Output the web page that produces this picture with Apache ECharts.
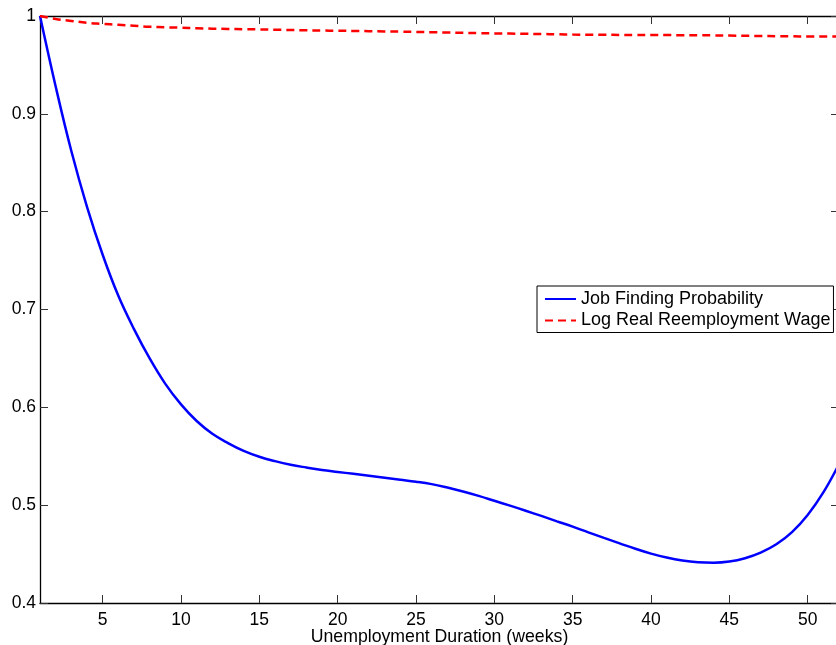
<!DOCTYPE html>
<html>
<head>
<meta charset="utf-8">
<script src="https://cdn.jsdelivr.net/npm/echarts@6/dist/echarts.min.js"></script>
<style>
  html, body { margin: 0; padding: 0; background: #fff; }
  #chart { width: 836px; height: 645px; }
</style>
</head>
<body>
<div id="chart"></div>
<script>
const weeks = [1,2,3,4,5,6,7,8,9,10,11,12,13,14,15,16,17,18,19,20,21,22,23,24,25,26,27,28,29,30,31,32,33,34,35,36,37,38,39,40,41,42,43,44,45,46,47,48,49,50,51,52];
const jobFinding = [1.000,0.928,0.862,0.805,0.756,0.714,0.680,0.650,0.624,0.603,0.586,0.573,0.5635,0.5555,0.5495,0.545,0.5413,0.5385,0.536,0.534,0.532,0.530,0.528,0.526,0.524,0.5215,0.518,0.514,0.5095,0.5045,0.4995,0.4943,0.489,0.4835,0.478,0.4722,0.4665,0.461,0.4555,0.4505,0.4465,0.4435,0.4417,0.4412,0.4424,0.4458,0.4515,0.460,0.4725,0.490,0.513,0.542];
const logWage = [1.000,0.997,0.995,0.993,0.992,0.991,0.990,0.989,0.9885,0.988,0.9875,0.987,0.9868,0.9865,0.9863,0.986,0.9857,0.9854,0.9851,0.985,0.9847,0.9845,0.9842,0.984,0.9837,0.9834,0.9831,0.9828,0.9825,0.9822,0.982,0.9818,0.9816,0.9813,0.981,0.9809,0.9808,0.9807,0.9806,0.9806,0.9805,0.9804,0.9803,0.9802,0.980,0.9798,0.9796,0.9794,0.9792,0.979,0.979,0.979];
const xTickValues = [5,10,15,20,25,30,35,40,45,50];
const seriesNames = ['Job Finding Probability', 'Log Real Reemployment Wage'];
const xAxisTitle = 'Unemployment Duration (weeks)';

const FONT = '"Liberation Sans", Arial, Helvetica, sans-serif';
const chart = echarts.init(document.getElementById('chart'), null, { renderer: 'canvas' });

const axisLineStyle = { color: '#000', width: 1.3 };
const tickStyle = { color: '#333', width: 1 };

chart.setOption({
  animation: false,
  backgroundColor: '#fff',
  textStyle: { fontFamily: FONT },
  grid: { left: 40, right: -3, top: 16, bottom: 42, containLabel: false, outerBoundsMode: 'none' },
  legend: {
    show: true,
    orient: 'vertical',
    left: 537, top: 286,
    padding: [4, 3, 3, 7],
    itemGap: 3.5,
    itemWidth: 31,
    itemHeight: 14,
    backgroundColor: '#fff',
    borderColor: '#000',
    borderWidth: 1,
    itemStyle: { opacity: 0, borderWidth: 0 },
    textStyle: { fontFamily: FONT, fontSize: 18, color: '#000' },
    data: seriesNames
  },
  xAxis: [
    {
      type: 'value', position: 'bottom', min: 1, max: 52,
      axisLine: { show: true, onZero: false, lineStyle: axisLineStyle },
      axisTick: { show: true, inside: true, length: 8, customValues: xTickValues, lineStyle: tickStyle },
      axisLabel: { show: true, customValues: xTickValues, fontSize: 17.5, color: '#000', margin: 8, fontFamily: FONT },
      splitLine: { show: false },
      name: xAxisTitle, nameLocation: 'middle', nameGap: 25, nameMoveOverlap: false,
      nameTextStyle: { fontSize: 17.7, color: '#000', fontFamily: FONT, verticalAlign: 'top' }
    },
    {
      type: 'value', position: 'top', min: 1, max: 52,
      axisLine: { show: true, onZero: false, lineStyle: axisLineStyle },
      axisTick: { show: true, inside: true, length: 8, customValues: xTickValues, lineStyle: tickStyle },
      axisLabel: { show: false },
      splitLine: { show: false }
    }
  ],
  yAxis: [
    {
      type: 'value', position: 'left', min: 0.4, max: 1, interval: 0.1,
      axisLine: { show: true, onZero: false, lineStyle: axisLineStyle },
      axisTick: { show: true, inside: true, length: 8, lineStyle: tickStyle },
      axisLabel: { show: true, fontSize: 17.5, color: '#000', margin: 4, fontFamily: FONT,
        formatter: v => String(Math.round(v * 10) / 10) },
      splitLine: { show: false }
    },
    {
      type: 'value', position: 'right', min: 0.4, max: 1, interval: 0.1,
      axisLine: { show: true, onZero: false, lineStyle: axisLineStyle },
      axisTick: { show: true, inside: true, length: 8, lineStyle: tickStyle },
      axisLabel: { show: false },
      splitLine: { show: false }
    }
  ],
  series: [
    {
      name: seriesNames[0], type: 'line', xAxisIndex: 0, yAxisIndex: 0,
      data: weeks.map((w, i) => [w, jobFinding[i]]),
      smooth: 0.4, symbol: 'none',
      lineStyle: { color: '#0000ff', width: 2.5 },
      itemStyle: { color: '#0000ff' }
    },
    {
      name: seriesNames[1], type: 'line', xAxisIndex: 0, yAxisIndex: 0,
      data: weeks.map((w, i) => [w, logWage[i]]),
      smooth: 0.4, symbol: 'none',
      lineStyle: { color: '#ff0000', width: 2.5, type: [8, 5] },
      itemStyle: { color: '#ff0000' }
    }
  ]
});
</script>
</body>
</html>
